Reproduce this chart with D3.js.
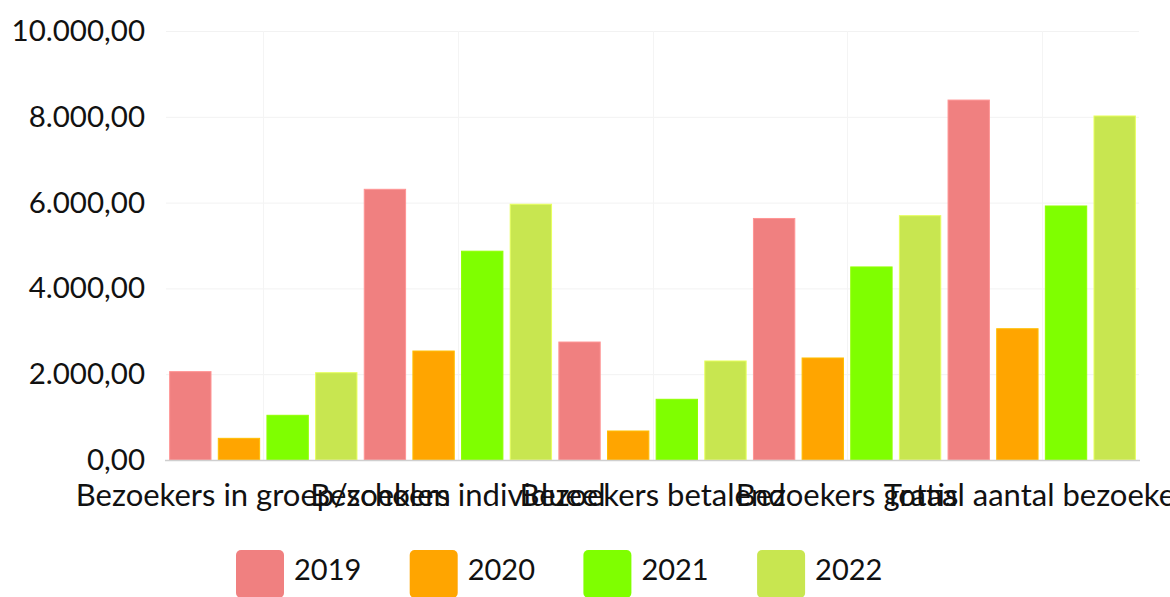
<!DOCTYPE html>
<html>
<head>
<meta charset="utf-8">
<script src="https://cdn.jsdelivr.net/npm/d3@7/dist/d3.min.js"></script>
<style>
  html, body { margin: 0; padding: 0; background: #fff; }
  svg { display: block; font-family: Lato, "Noto Sans", sans-serif; }
</style>
</head>
<body>
<svg id="chart" width="1170" height="597"></svg>
<script>
const categories = [
  "Bezoekers in groep/scholen",
  "Bezoekers individueel",
  "Bezoekers betalend",
  "Bezoekers gratis",
  "Totaal aantal bezoekers"
];
const years = ["2019", "2020", "2021", "2022"];
const values2019 = [2060, 6310, 2750, 5630, 8390];
const values2020 = [505, 2540, 676, 2378, 3060];
const values2021 = [1042, 4867, 1415, 4500, 5921];
const values2022 = [2035, 5962, 2308, 5695, 8019];
const yTicks = [0, 2000, 4000, 6000, 8000, 10000];
const colors = ["#F08080", "#FFA500", "#7FFF00", "#C8E650"];

const seriesValues = [values2019, values2020, values2021, values2022];

const W = 1170, H = 597;
const m = { left: 166, right: 1139, top: 31, bottom: 460 };
const svg = d3.select("#chart");

const nl = d3.formatLocale({ decimal: ",", thousands: ".", grouping: [3], currency: ["€", ""] });
const fmt = nl.format(",.2f");

const x0 = d3.scaleBand().domain(categories).range([m.left, m.right]).padding(0);
const x1 = d3.scaleBand().domain(years).range([0, x0.bandwidth()]).padding(0);
const y = d3.scaleLinear().domain([0, 10000]).range([m.bottom, m.top]);

// horizontal grid
svg.append("g").selectAll("line").data(yTicks.filter(d => d !== 0)).join("line")
  .attr("x1", m.left).attr("x2", m.right)
  .attr("y1", d => y(d) + 0.5).attr("y2", d => y(d) + 0.5)
  .attr("stroke", "#f2f2f2").attr("stroke-width", 1);

// vertical grid at category centers
svg.append("g").selectAll("line").data(categories).join("line")
  .attr("x1", d => Math.round(x0(d) + x0.bandwidth() / 2) + 0.5)
  .attr("x2", d => Math.round(x0(d) + x0.bandwidth() / 2) + 0.5)
  .attr("y1", m.top).attr("y2", m.bottom)
  .attr("stroke", "#f4f4f4").attr("stroke-width", 1);

// y tick labels
svg.append("g").selectAll("text").data(yTicks).join("text")
  .attr("x", 145).attr("y", d => y(d) - 1.5)
  .attr("text-anchor", "end").attr("dominant-baseline", "central")
  .attr("font-size", 29.5).attr("fill", "#111")
  .text(d => fmt(d));

// bars
const barW = x1.bandwidth() * 0.85;
const barOff = (x1.bandwidth() - barW) / 2;
const groups = svg.append("g").selectAll("g").data(years).join("g");
groups.each(function (yr, si) {
  d3.select(this).selectAll("rect").data(seriesValues[si].map((v, ci) => ({ v, c: categories[ci] })))
    .join("rect")
    .attr("x", d => x0(d.c) + x1(yr) + barOff)
    .attr("y", d => y(d.v))
    .attr("width", barW)
    .attr("height", d => y(0) - y(d.v))
    .attr("fill", colors[si])
    .attr("stroke", d3.color(colors[si]).brighter(0.4))
    .attr("stroke-width", 1);
});

// zero line
svg.append("line")
  .attr("x1", m.left - 1).attr("x2", m.right + 1)
  .attr("y1", y(0) + 0.5).attr("y2", y(0) + 0.5)
  .attr("stroke", "#cfcfcf").attr("stroke-width", 1.5);

// x labels
svg.append("g").selectAll("text").data(categories).join("text")
  .attr("x", d => x0(d) + x0.bandwidth() / 2)
  .attr("y", 506)
  .attr("text-anchor", "middle")
  .attr("font-size", 31).attr("fill", "#111")
  .text(d => d);

// legend
const legStart = 236, legStep = 173.7;
const leg = svg.append("g").selectAll("g").data(years).join("g")
  .attr("transform", (d, i) => `translate(${legStart + i * legStep},550)`);
leg.append("rect").attr("width", 48).attr("height", 48).attr("rx", 5)
  .attr("fill", (d, i) => colors[i]);
leg.append("text").attr("x", 58).attr("y", 30)
  .attr("font-size", 29).attr("fill", "#111")
  .text(d => d);
</script>
</body>
</html>
